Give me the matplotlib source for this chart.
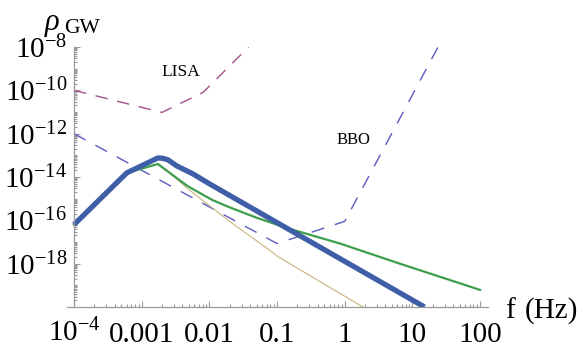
import numpy as np
import matplotlib
matplotlib.use('Agg')
import matplotlib.pyplot as plt
from matplotlib.ticker import FixedLocator, FixedFormatter, NullFormatter

plt.rcParams['font.family'] = ['Liberation Serif', 'DejaVu Serif']
plt.rcParams['mathtext.fontset'] = 'custom'
plt.rcParams['mathtext.rm'] = 'Liberation Serif'
plt.rcParams['mathtext.it'] = 'Liberation Serif:italic'
plt.rcParams['mathtext.bf'] = 'Liberation Serif:bold'
plt.rcParams['lines.scale_dashes'] = False

# ---- data (log10 f [Hz], log10 rho_GW) ----
thick_logf = [-4.0, -3.22, -2.76, -2.68, -2.61, -2.48, -2.24, -1.99, -0.84, 1.18]
thick_logrho = [-16.2, -13.81, -13.12, -13.14, -13.21, -13.49, -13.86, -14.33, -16.39, -20.0]

green_logf = [-4.0, -3.22, -2.76, -2.48, -2.33, -2.14, -1.95, -1.70, -1.30, -0.84, -0.07, 0.815, 2.0]
green_logrho = [-16.2, -13.81, -13.40, -14.05, -14.40, -14.74, -15.07, -15.40, -15.88, -16.37, -17.07, -18.0, -19.21]

olive_logf = [-2.76, -2.48, -2.33, -1.95, -1.70, -1.10, -0.99, 0.27]
olive_logrho = [-13.40, -14.10, -14.51, -15.44, -16.05, -17.40, -17.67, -20.0]

bbo_logf = [-4.0, -1.0, 0.0, 1.38]
bbo_logrho = [-12.0, -17.07, -16.05, -8.0]

lisa_logf = [-4.0, -2.70, -2.09, -1.42]
lisa_logrho = [-10.0, -11.02, -10.09, -8.0]

xtick_vals = [1e-4, 1e-3, 1e-2, 1e-1, 1, 10, 100]
xtick_labels = [r'$10^{-4}$', '0.001', '0.01', '0.1', '1', '10', '100']
ytick_vals = [1e-18, 1e-16, 1e-14, 1e-12, 1e-10, 1e-8]
ytick_labels = [r'$10^{-18}$', r'$10^{-16}$', r'$10^{-14}$', r'$10^{-12}$', r'$10^{-10}$', r'$10^{-8}$']

W, H = 581, 349
fig = plt.figure(figsize=(W / 100, H / 100), dpi=100)
ax = fig.add_axes([67 / W, 42 / H, 421 / W, 260 / H])
ax.set_xscale('log')
ax.set_yscale('log')
ax.set_xlim(10 ** -4.103, 10 ** 2.118)
ax.set_ylim(1e-20, 1e-8)

p = lambda a: np.power(10.0, np.asarray(a))

ax.plot(p(lisa_logf), p(lisa_logrho), color='#a5508c', lw=1.0, dashes=(9, 7))
ax.plot(p(bbo_logf), p(bbo_logrho), color='#5b5bbd', lw=1.0, dashes=(9.5, 8))
ax.plot(p(olive_logf), p(olive_logrho), color='#c8b47c', lw=0.8)
ax.plot(p(green_logf), p(green_logrho), color='#3d9e4c', lw=1.6)
ax.plot(p(thick_logf), p(thick_logrho), color='#3f5ea8', lw=3.8,
        solid_capstyle='butt', solid_joinstyle='round')

ax.text(10 ** -2.42, 10 ** -9.16, 'LISA', fontsize=12.5, ha='center', va='center')
ax.text(10 ** 0.136, 10 ** -12.28, 'BBO', fontsize=12, ha='center', va='center')

for s in ['top', 'right']:
    ax.spines[s].set_visible(False)
ax.spines['left'].set_position(('data', 1e-4))
for s in ['left', 'bottom']:
    ax.spines[s].set_color('#9a9a9a')
    ax.spines[s].set_linewidth(0.9)

ax.xaxis.set_major_locator(FixedLocator(xtick_vals))
ax.xaxis.set_major_formatter(FixedFormatter(xtick_labels))
xminor = [k * 10.0 ** n for n in range(-4, 2) for k in range(2, 10)]
ax.xaxis.set_minor_locator(FixedLocator(xminor))
ax.xaxis.set_minor_formatter(NullFormatter())

ax.yaxis.set_major_locator(FixedLocator(ytick_vals))
ax.yaxis.set_major_formatter(FixedFormatter(ytick_labels))
yminor = [k * 10.0 ** n for n in range(-20, -8) for k in range(1, 10)
          if not (k == 1 and n % 2 == 0)]
ax.yaxis.set_minor_locator(FixedLocator(yminor))
ax.yaxis.set_minor_formatter(NullFormatter())

ax.tick_params(which='both', direction='in', color='#9a9a9a', width=0.8, labelsize=21)
ax.tick_params(which='major', length=4)
ax.tick_params(which='minor', length=2)
ax.tick_params(axis='x', pad=25)
ax.tick_params(axis='y', pad=5)
for lab in ax.get_xticklabels():
    lab.set_verticalalignment('baseline')

fig.text(505 / W, 1 - 318 / H, 'f', fontsize=21, ha='left', va='baseline')
fig.text(525 / W, 1 - 318 / H, '(Hz)', fontsize=21, ha='left', va='baseline')
fig.text(45 / W, 1 - 30 / H, '\u03c1', fontsize=22, style='italic', ha='left', va='baseline')
fig.text(64 / W, 1 - 33 / H, 'GW', fontsize=15.5, ha='left', va='baseline')

fig.savefig('out.png', dpi=100)
